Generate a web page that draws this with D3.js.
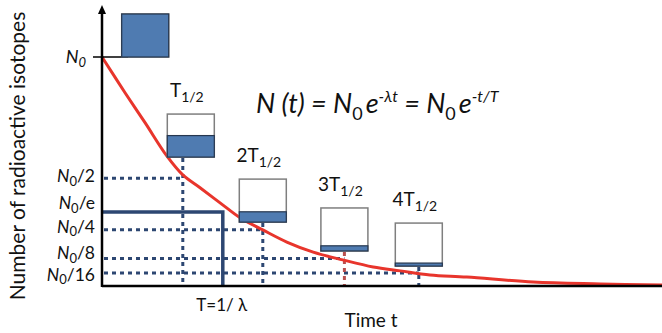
<!DOCTYPE html>
<html>
  <head>
    <meta charset="utf-8">
    <title>Radioactive decay</title>
    <script src="https://d3js.org/d3.v7.min.js"></script>
    <style>
      body { margin: 0; background: #fff; }
      svg { display: block; font-family: Lato, "Liberation Sans", sans-serif; }
      text { fill: #111; }
      .guide { stroke: #2d4772; stroke-width: 3; stroke-dasharray: 4 4; fill: none; }
      .solid { stroke: #2d4772; stroke-width: 3.5; fill: none; }
    </style>
  </head>
  <body>
    <svg id="chart" width="662" height="333"></svg>
    <script>
      // decay curve (t in half-lives, N as fraction of N0)
      const curveT = [0, 0.29, 0.54, 0.81, 1.01, 1.23, 1.48, 1.73, 2.01, 2.31, 2.64, 3.01, 3.39, 3.73, 4.10, 4.56, 5.39, 6.23, 7.0];
      const curveN = [1, 0.843, 0.712, 0.568, 0.485, 0.428, 0.362, 0.297, 0.245, 0.192, 0.148, 0.114, 0.083, 0.066, 0.048, 0.039, 0.017, 0.009, 0.004];
      // level guides
      const levelN = [0.47, 0.246, 0.12, 0.057];
      const halfT = [1.01, 2.01, 3.03, 3.96];
      const halfLabels = ["", "2", "3", "4"];
      const halfColors = ["#2d4772", "#2d4772", "#b9504e", "#2d4772"];
      // y labels, top to bottom (N0/x) and the level each one sits at
      const yLabelDen = ["2", "e", "4", "8", "16"];
      const yLabelN = [0.48, 0.362, 0.258, 0.142, 0.05];
      // 1/e point
      const tauT = 1.51;
      const tauN = 0.323;
      // sample boxes
      const boxT = [0.54, 1.11, 2.01, 3.03, 3.96];
      const boxBaseN = [1.0, 0.563, 0.279, 0.153, 0.087];
      const boxFill = [1, 0.5, 0.24, 0.12, 0.07];

      const svg = d3.select("#chart");
      const x = d3.scaleLinear().domain([0, 7]).range([102, 662]);
      const y = d3.scaleLinear().domain([0, 1]).range([286, 57]);

      // horizontal dotted guides
      svg.selectAll(".hguide")
        .data(levelN)
        .join("line")
          .attr("class", "guide")
          .attr("x1", x(0) + 2)
          .attr("x2", (d, i) => x(halfT[i]))
          .attr("y1", d => y(d))
          .attr("y2", d => y(d));

      // vertical dotted guides from box bottom to axis
      svg.selectAll(".vguide")
        .data(halfT)
        .join("line")
          .attr("class", "guide")
          .style("stroke", (d, i) => halfColors[i])
          .attr("x1", d => x(d))
          .attr("x2", d => x(d))
          .attr("y1", (d, i) => y(boxBaseN[i + 1]) + 1)
          .attr("y2", y(0));

      // 1/e lines
      svg.append("path")
        .attr("class", "solid")
        .attr("d", "M" + x(0) + "," + y(tauN) + "H" + x(tauT) + "V" + y(0));

      // decay curve
      const line = d3.line().curve(d3.curveCatmullRom.alpha(0.5));
      svg.append("path")
        .attr("d", line(curveT.map((t, i) => [x(t), y(curveN[i])])))
        .attr("fill", "none")
        .attr("stroke", "#e8352c")
        .attr("stroke-width", 3);

      // axes
      svg.append("line")
        .attr("x1", x(0)).attr("x2", x(7))
        .attr("y1", y(0)).attr("y2", y(0))
        .attr("stroke", "#000").attr("stroke-width", 2.5);
      svg.append("line")
        .attr("x1", x(0)).attr("x2", x(0))
        .attr("y1", y(0) + 1).attr("y2", 12)
        .attr("stroke", "#000").attr("stroke-width", 2.5);
      svg.append("path")
        .attr("d", "M" + x(0) + ",5L" + (x(0) - 4) + ",14L" + (x(0) + 4) + ",14Z")
        .attr("fill", "#000");
      svg.append("line")
        .attr("x1", 93).attr("x2", 128)
        .attr("y1", y(1)).attr("y2", y(1))
        .attr("stroke", "#000").attr("stroke-width", 1.5);

      // boxes
      const bw = 47, bh = 43;
      const boxes = svg.selectAll(".box")
        .data(boxT)
        .join("g")
          .attr("transform", (d, i) => "translate(" + (x(d) - bw / 2) + "," + (y(boxBaseN[i]) - bh) + ")");
      boxes.append("rect")
        .attr("width", bw).attr("height", bh)
        .attr("fill", "#fff").attr("stroke", "#7f7f7f").attr("stroke-width", 1.5);
      boxes.append("rect")
        .attr("y", (d, i) => bh * (1 - boxFill[i]))
        .attr("width", bw)
        .attr("height", (d, i) => bh * boxFill[i])
        .attr("fill", "#4f7bb1").attr("stroke", "#26374f").attr("stroke-width", 1.2);

      // half-life labels above boxes
      const hl = svg.selectAll(".hl")
        .data(halfLabels)
        .join("text")
          .attr("x", (d, i) => x(boxT[i + 1]) - 4)
          .attr("y", (d, i) => y(boxBaseN[i + 1]) - bh - 17)
          .attr("text-anchor", "middle")
          .style("font-size", "19px");
      hl.append("tspan").text(d => d + "T");
      hl.append("tspan").attr("dy", 5).style("font-size", "14px").text("1/2");

      // y level labels
      const topLabel = svg.append("text")
        .attr("x", 86).attr("y", y(1) + 6)
        .attr("text-anchor", "end")
        .style("font-size", "18px").style("font-style", "italic");
      topLabel.append("tspan").text("N");
      topLabel.append("tspan").attr("dy", 4).style("font-size", "13px").text("0");

      const lvl = svg.selectAll(".lvl")
        .data(yLabelDen)
        .join("text")
          .attr("x", 95)
          .attr("y", (d, i) => y(yLabelN[i]) + 6)
          .attr("text-anchor", "end")
          .style("font-size", "17.5px");
      lvl.append("tspan").style("font-style", "italic").text("N");
      lvl.append("tspan").attr("dy", 3.5).style("font-size", "13px").text("0");
      lvl.append("tspan").attr("dy", -3.5).text(d => "/" + d);

      // axis titles
      svg.append("text")
        .attr("transform", "translate(25,156) rotate(-90)")
        .attr("text-anchor", "middle")
        .style("font-size", "21px")
        .text("Number of radioactive isotopes");
      svg.append("text")
        .attr("x", 371).attr("y", 327)
        .attr("text-anchor", "middle")
        .style("font-size", "19px")
        .text("Time t");
      svg.append("text")
        .attr("x", x(tauT) - 1).attr("y", 311)
        .attr("text-anchor", "middle")
        .style("font-size", "17px")
        .text("T=1/ \u03bb");

      // formula
      const f = svg.append("text")
        .attr("x", 256).attr("y", 113)
        .style("font-size", "27px").style("font-style", "italic");
      f.append("tspan").text("N (t) = N");
      f.append("tspan").attr("dy", 7).style("font-size", "18px").style("font-style", "normal").text("0");
      f.append("tspan").attr("dy", -7).attr("dx", 3).text("e");
      f.append("tspan").attr("dy", -11).style("font-size", "16px").text("-\u03bbt");
      f.append("tspan").attr("dy", 11).text(" = N");
      f.append("tspan").attr("dy", 7).style("font-size", "18px").style("font-style", "normal").text("0");
      f.append("tspan").attr("dy", -7).attr("dx", 3).text("e");
      f.append("tspan").attr("dy", -11).style("font-size", "16px").text("-t/T");
    </script>
  </body>
</html>
